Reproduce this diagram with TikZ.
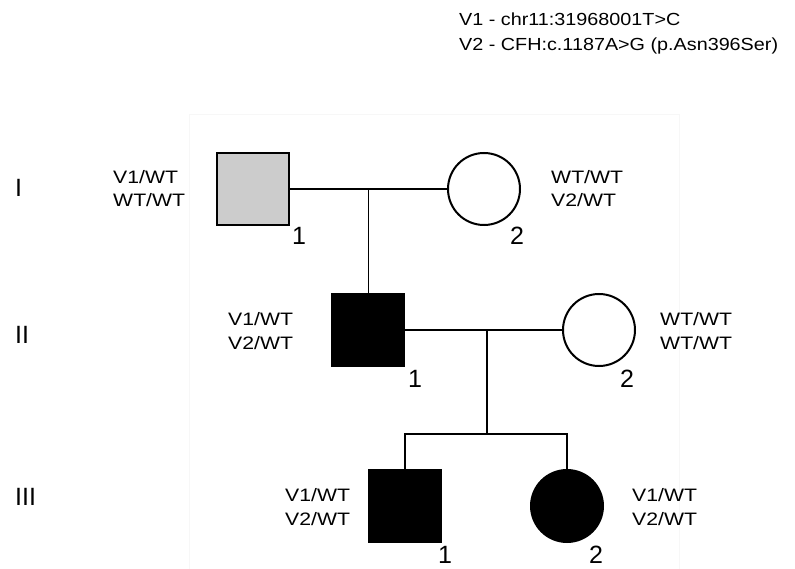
\documentclass[tikz,border=0pt]{standalone}
\usepackage{fontspec}
\setmainfont{Liberation Sans}
\newfontfamily\genofont[FakeStretch=1.18]{Liberation Sans}
\newfontfamily\legendfont[FakeStretch=1.13]{Liberation Sans}
\usetikzlibrary{calc}
\begin{document}
\begin{tikzpicture}[x=1pt,y=-1pt,
  male/.style={draw,line width=2pt,rectangle,minimum size=72pt,inner sep=0pt},
  female/.style={draw,line width=2pt,circle,minimum size=72pt,inner sep=0pt},
  geno/.style={align=left,inner sep=0pt,anchor=west,font=\genofont\fontsize{18}{23.5}\selectfont},
  num/.style={inner sep=0pt,text height=18pt,text depth=0pt,font=\fontsize{25}{25}\selectfont},
  gen/.style={inner sep=0pt,anchor=west,font=\fontsize{25}{25}\selectfont},
  link/.style={line width=1.6pt}]
\useasboundingbox (0,0) rectangle (795,569);
\draw[black!3,line width=0.8pt] (189,569) -- (189,114) -- (679,114) -- (679,569);
% legend
\node[geno,font=\legendfont\fontsize{17.5}{25}\selectfont] (legend) at (459,33) {V1 - chr11:31968001T>C\\V2 - CFH:c.1187A>G (p.Asn396Ser)};
% generations
\node[gen] (genI) at (15,188) {I};
\node[gen] (genII) at (15,335) {II};
\node[gen] (genIII) at (15,497) {III};
% individuals
\node[male,fill=black!20] (I1) at (253,189) {};
\node[female] (I2) at (484,189) {};
\node[male,fill=black] (II1) at (368,330) {};
\node[female] (II2) at (599,330) {};
\node[male,fill=black] (III1) at (405,506) {};
\node[female,fill=black] (III2) at (567,506) {};
% numbers
\node[num] (nI1) at (299,236) {1};
\node[num] (nI2) at (517,236) {2};
\node[num] (nII1) at (415,378) {1};
\node[num] (nII2) at (627,378) {2};
\node[num] (nIII1) at (445,554) {1};
\node[num] (nIII2) at (596,554) {2};
% genotypes
\node[geno] (gI1) at (113,188.5) {V1/WT\\WT/WT};
\node[geno] (gI2) at (551,188.5) {WT/WT\\V2/WT};
\node[geno] (gII1) at (228,331) {V1/WT\\V2/WT};
\node[geno] (gII2) at (660,331) {WT/WT\\WT/WT};
\node[geno] (gIII1) at (285,507) {V1/WT\\V2/WT};
\node[geno] (gIII2) at (632,507) {V1/WT\\V2/WT};
% lines
\coordinate (m1) at ($(I1.east)!0.5!(I2.west)$);
\coordinate (m2) at (487,330);
\coordinate (s2) at (487,434);
\draw[link] (I1.east) -- (I2.west);
\draw[link] (m1) -- (II1.north -| m1);
\draw[link] (II1.east) -- (II2.west);
\draw[link] (m2) -- (s2);
\draw[link] (III1.north) |- (s2) -| (III2.north);
\end{tikzpicture}
\end{document}
